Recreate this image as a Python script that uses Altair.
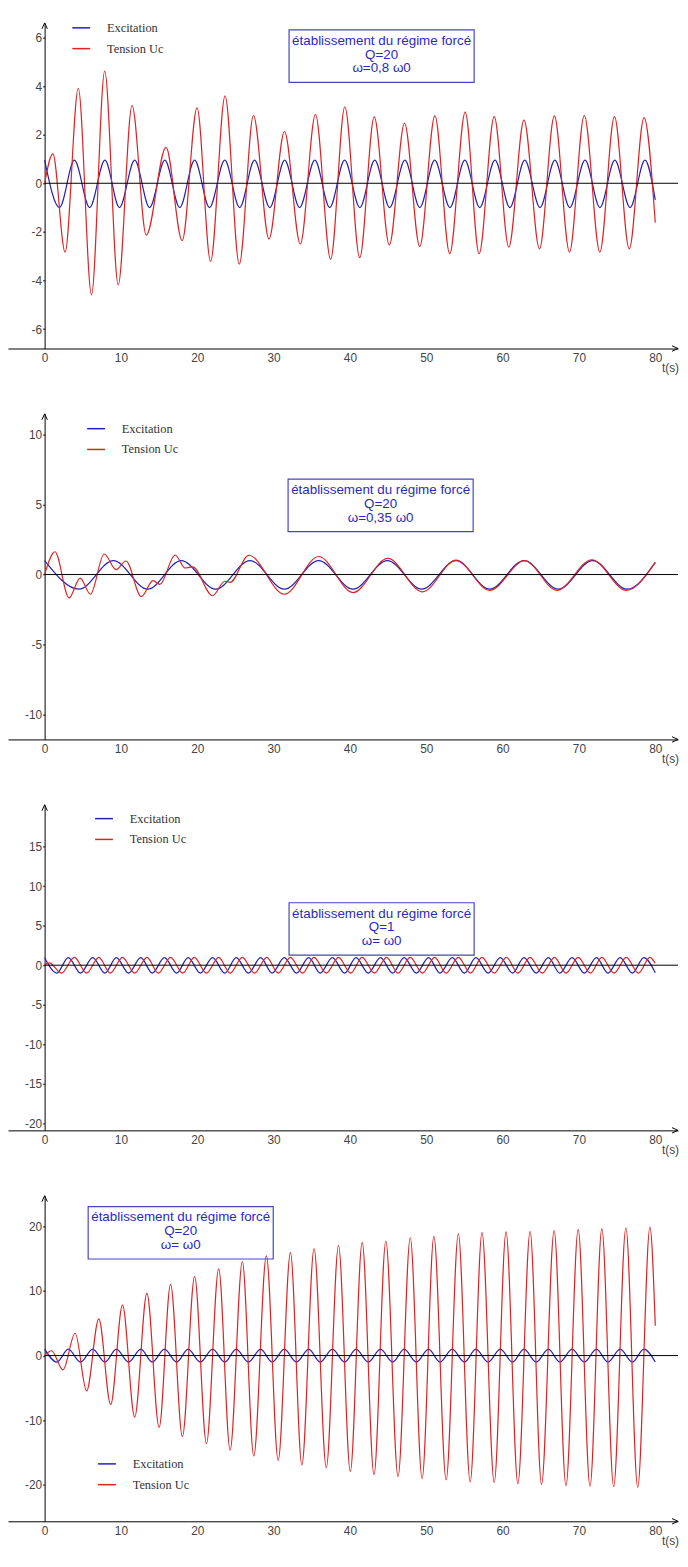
import altair as alt
import pandas as pd

SERIES = ["Excitation", "Tension Uc"]
COLORS = ["#2222b0", "#dd2323"]
X_TICKS = [0, 10, 20, 30, 40, 50, 60, 70, 80]
X_DOMAIN = [-4.8, 82.98]
W = 677
H = 329
AXIS_FONT = "Liberation Sans Narrow, Liberation Sans, Arial"

# ---------------- Panel 1 : Q=20, w=0.8 w0 ----------------
p1_exc_t = [0, 1.95, 3.9, 5.9, 7.9, 9.8, 11.8, 13.75, 15.75, 17.7,
            19.65, 21.6, 23.6, 25.55, 27.5, 29.5, 31.45, 33.4, 35.4, 37.35,
            39.3, 41.3, 43.25, 45.2, 47.2, 49.15, 51.1, 53.1, 55.05, 57.0,
            59.0, 60.95, 62.9, 64.9, 66.85, 68.8, 70.8, 72.75, 74.7, 76.7,
            78.65, 80]
p1_exc_v = [0.95, -1.0, 0.95, -1.0, 0.95, -1.0, 0.95, -1.0, 0.95, -1.0,
            0.95, -1.0, 0.95, -1.0, 0.95, -1.0, 0.95, -1.0, 0.95, -1.0,
            0.95, -1.0, 0.95, -1.0, 0.95, -1.0, 0.95, -1.0, 0.95, -1.0,
            0.95, -1.0, 0.95, -1.0, 0.95, -1.0, 0.95, -1.0, 0.95, -1.0,
            0.95, -0.68]
p1_uc_t = [0, 1.08, 2.68, 4.41, 6.14, 7.87, 9.64, 11.45, 13.31, 15.9,
           18.02, 19.97, 21.74, 23.64, 25.5, 27.36, 29.39, 31.42, 33.5, 35.48,
           37.47, 39.33, 41.28, 43.18, 45.16, 47.15, 49.14, 51.13, 53.07, 55.1,
           56.92, 58.9, 60.81, 62.8, 64.83, 66.78, 68.76, 70.7, 72.74, 74.65,
           76.59, 78.53, 80]
p1_uc_v = [0, 1.21, -2.83, 3.91, -4.59, 4.62, -4.18, 3.2, -2.13, 1.48,
           -2.36, 3.1, -3.22, 3.6, -3.33, 2.79, -2.29, 2.13, -2.5, 2.83,
           -3.13, 3.15, -3.06, 2.73, -2.54, 2.47, -2.6, 2.77, -2.9, 2.93,
           -2.9, 2.74, -2.63, 2.6, -2.7, 2.77, -2.83, 2.79, -2.83, 2.74,
           -2.7, 2.7, -1.62]
p1_ydomain = [-6.8, 6.6]
p1_yticks = [-6, -4, -2, 0, 2, 4, 6]
p1_box = ["établissement du régime forcé", "Q=20", "ω=0,8 ω0"]

# ---------------- Panel 2 : Q=20, w=0.35 w0 ----------------
p2_exc_t = [0, 4.5, 9.0, 13.5, 17.9, 22.4, 26.9, 31.4, 35.9, 40.4,
            44.9, 49.4, 53.9, 58.3, 62.8, 67.3, 71.8, 76.3, 80]
p2_exc_v = [1.0, -1.05, 1.0, -1.05, 1.0, -1.05, 1.0, -1.05, 1.0, -1.05,
            1.0, -1.05, 1.0, -1.05, 1.0, -1.05, 1.0, -1.05, 0.87]
p2_uc_t = [0, 1.35, 3.2, 4.65, 6.0, 7.8, 9.35, 10.65, 12.67, 14.2,
           15.1, 17.1, 18.4, 19.4, 22.0, 23.6, 24.3, 26.75, 31.4, 35.9,
           40.4, 44.95, 49.5, 53.9, 58.3, 62.9, 67.1, 71.7, 76.2, 80]
p2_uc_v = [0, 1.63, -1.67, -0.25, -1.41, 1.47, 0.35, 0.97, -1.58, -0.43,
           -0.7, 1.4, 0.47, 0.55, -1.52, -0.48, -0.56, 1.38, -1.41, 1.29,
           -1.29, 1.15, -1.24, 1.03, -1.13, 0.99, -1.13, 1.06, -1.13, 0.87]
p2_ydomain = [-11.8, 11.5]
p2_yticks = [-10, -5, 0, 5, 10]
p2_box = ["établissement du régime forcé", "Q=20", "ω=0,35 ω0"]

# ---------------- Panel 3 : Q=1, w=w0 ----------------
p3_exc_t = [0, 1.6, 3.1, 4.7, 6.3, 7.9, 9.4, 11.0, 12.6, 14.1,
            15.7, 17.3, 18.8, 20.4, 22.0, 23.6, 25.1, 26.7, 28.3, 29.8,
            31.4, 33.0, 34.6, 36.1, 37.7, 39.3, 40.8, 42.4, 44.0, 45.6,
            47.1, 48.7, 50.3, 51.8, 53.4, 55.0, 56.5, 58.1, 59.7, 61.3,
            62.8, 64.4, 66.0, 67.5, 69.1, 70.7, 72.3, 73.8, 75.4, 77.0,
            78.5, 80]
p3_exc_v = [0.95, -1.0, 0.95, -1.0, 0.95, -1.0, 0.95, -1.0, 0.95, -1.0,
            0.95, -1.0, 0.95, -1.0, 0.95, -1.0, 0.95, -1.0, 0.95, -1.0,
            0.95, -1.0, 0.95, -1.0, 0.95, -1.0, 0.95, -1.0, 0.95, -1.0,
            0.95, -1.0, 0.95, -1.0, 0.95, -1.0, 0.95, -1.0, 0.95, -1.0,
            0.95, -1.0, 0.95, -1.0, 0.95, -1.0, 0.95, -1.0, 0.95, -1.0,
            0.95, -0.97]
p3_uc_t = [0, 0.6, 2.2, 3.9, 5.5, 7.1, 8.6, 10.2, 11.8, 13.4,
           14.9, 16.5, 18.1, 19.6, 21.2, 22.8, 24.3, 25.9, 27.5, 29.1,
           30.6, 32.2, 33.8, 35.3, 36.9, 38.5, 40.1, 41.6, 43.2, 44.8,
           46.3, 47.9, 49.5, 51.1, 52.6, 54.2, 55.8, 57.3, 58.9, 60.5,
           62.0, 63.6, 65.2, 66.8, 68.3, 69.9, 71.5, 73.0, 74.6, 76.2,
           77.8, 79.3, 80]
p3_uc_v = [0, 0.3, -1.0, 1.0, -1.0, 1.0, -1.0, 1.0, -1.0, 1.0,
           -1.0, 1.0, -1.0, 1.0, -1.0, 1.0, -1.0, 1.0, -1.0, 1.0,
           -1.0, 1.0, -1.0, 1.0, -1.0, 1.0, -1.0, 1.0, -1.0, 1.0,
           -1.0, 1.0, -1.0, 1.0, -1.0, 1.0, -1.0, 1.0, -1.0, 1.0,
           -1.0, 1.0, -1.0, 1.0, -1.0, 1.0, -1.0, 1.0, -1.0, 1.0,
           -1.0, 1.0, 0.25]
p3_ydomain = [-20.9, 20.3]
p3_yticks = [-20, -15, -10, -5, 0, 5, 10, 15]
p3_box = ["établissement du régime forcé", "Q=1", "ω= ω0"]

# ---------------- Panel 4 : Q=20, w=w0 ----------------
p4_exc_t = [0, 1.6, 3.1, 4.7, 6.3, 7.9, 9.4, 11.0, 12.6, 14.1,
            15.7, 17.3, 18.8, 20.4, 22.0, 23.6, 25.1, 26.7, 28.3, 29.8,
            31.4, 33.0, 34.6, 36.1, 37.7, 39.3, 40.8, 42.4, 44.0, 45.6,
            47.1, 48.7, 50.3, 51.8, 53.4, 55.0, 56.5, 58.1, 59.7, 61.3,
            62.8, 64.4, 66.0, 67.5, 69.1, 70.7, 72.3, 73.8, 75.4, 77.0,
            78.5, 80]
p4_exc_v = [1.0, -1.0, 1.0, -1.0, 1.0, -1.0, 1.0, -1.0, 1.0, -1.0,
            1.0, -1.0, 1.0, -1.0, 1.0, -1.0, 1.0, -1.0, 1.0, -1.0,
            1.0, -1.0, 1.0, -1.0, 1.0, -1.0, 1.0, -1.0, 1.0, -1.0,
            1.0, -1.0, 1.0, -1.0, 1.0, -1.0, 1.0, -1.0, 1.0, -1.0,
            1.0, -1.0, 1.0, -1.0, 1.0, -1.0, 1.0, -1.0, 1.0, -1.0,
            1.0, -1.0]
p4_uc_t = [0, 0.9, 2.4, 4.0, 5.5, 7.1, 8.65, 10.2, 11.8, 13.4,
           15.0, 16.5, 18.05, 19.65, 21.2, 22.8, 24.3, 25.9, 27.4, 29.05,
           30.6, 32.2, 33.7, 35.3, 36.9, 38.5, 40.05, 41.6, 43.15, 44.7,
           46.3, 47.9, 49.45, 51.0, 52.6, 54.2, 55.75, 57.3, 58.9, 60.45,
           62.0, 63.6, 65.1, 66.75, 68.3, 69.9, 71.45, 73.0, 74.55, 76.15,
           77.7, 79.3, 80]
p4_uc_v = [0, 0.75, -2.2, 3.45, -5.45, 5.66, -7.58, 7.78, -9.5, 9.6,
           -11.1, 11.0, -12.5, 12.2, -13.6, 13.4, -14.6, 14.5, -15.5, 15.4,
           -16.2, 15.9, -16.9, 16.5, -17.3, 17.0, -17.9, 17.5, -18.4, 17.7,
           -18.7, 18.2, -19.0, 18.4, -19.2, 18.8, -19.5, 19.0, -19.6, 19.1,
           -19.8, 19.2, -19.9, 19.3, -20.1, 19.5, -20.2, 19.6, -20.25, 19.75,
           -20.35, 19.85, 4.6]
p4_ydomain = [-25.6, 24.7]
p4_yticks = [-20, -10, 0, 10, 20]
p4_box = ["établissement du régime forcé", "Q=20", "ω= ω0"]


def make_panel(exc_t, exc_v, uc_t, uc_v, ydomain, yticks, box_lines,
               leg_x, leg_y, box_x, box_y):
    df = pd.concat([
        pd.DataFrame({"t": exc_t, "v": exc_v, "s": SERIES[0]}),
        pd.DataFrame({"t": uc_t, "v": uc_v, "s": SERIES[1]}),
    ], ignore_index=True)
    origin = pd.DataFrame({"t": [0], "v": [0]})
    one = pd.DataFrame({"k": [0]})

    x_enc = alt.X("t:Q",
                  scale=alt.Scale(domain=X_DOMAIN, nice=False, zero=False),
                  axis=alt.Axis(values=X_TICKS, title=None, grid=False, ticks=False,
                                domainColor="#000000", domainWidth=1,
                                labelFont=AXIS_FONT, labelFontSize=12,
                                labelColor="#444444", labelPadding=4,
                                labelFlush=False))
    y_enc = alt.Y("v:Q",
                  scale=alt.Scale(domain=ydomain, nice=False, zero=False),
                  axis=alt.Axis(values=yticks, title=None, grid=False, offset=-37,
                                domainColor="#000000", domainWidth=1,
                                tickSize=2, tickColor="#555555", tickWidth=1.5,
                                labelFont=AXIS_FONT, labelFontSize=12,
                                labelColor="#444444", labelPadding=1,
                                labelExpr="'' + datum.value",
                                labelFlush=False, labelOverlap=False))

    lines = alt.Chart(df).mark_line(interpolate="monotone", strokeWidth=1.2).encode(
        x=x_enc,
        y=y_enc,
        color=alt.Color("s:N",
                        scale=alt.Scale(domain=SERIES, range=COLORS),
                        legend=alt.Legend(orient="none", legendX=leg_x, legendY=leg_y,
                                          title=None, symbolType="stroke",
                                          symbolSize=324, symbolStrokeWidth=1.5,
                                          labelFont="Liberation Serif", labelFontSize=12.5,
                                          labelColor="#333333", labelOffset=16,
                                          rowPadding=4, padding=0)),
    )

    zero = alt.Chart(origin).mark_rule(color="#000000", strokeWidth=1).encode(
        x="t:Q", x2=alt.value(W), y="v:Q")

    y_arrow = alt.Chart(origin).mark_point(
        shape="M-1,2.2L0,0L1,2.2", filled=False, color="#000000",
        size=30, strokeWidth=1, opacity=1).encode(x="t:Q", y=alt.value(0))

    x_arrow = alt.Chart(one).mark_point(
        shape="M-2.2,-1L0,0L-2.2,1", filled=False, color="#000000",
        size=30, strokeWidth=1, opacity=1).encode(x=alt.value(W), y=alt.value(H))

    box = alt.Chart(one).mark_rect(
        fillOpacity=0, stroke="#4646c4", strokeWidth=1.2).encode(
        x=alt.value(box_x), x2=alt.value(box_x + 187),
        y=alt.value(box_y), y2=alt.value(box_y + 53))

    box_text = alt.Chart(one).mark_text(
        text=box_lines, font="Liberation Sans, Arial", fontSize=13.5,
        color="#2a2abf", align="center", baseline="top", lineHeight=14).encode(
        x=alt.value(box_x + 93.5), y=alt.value(box_y + 4))

    t_label = alt.Chart(one).mark_text(
        text="t(s)", font=AXIS_FONT, fontSize=12, color="#444444",
        align="right", baseline="middle").encode(
        x=alt.value(W + 1), y=alt.value(H + 20))

    return alt.layer(lines, zero, y_arrow, x_arrow, box, box_text, t_label).properties(
        width=W, height=H)


panel1 = make_panel(p1_exc_t, p1_exc_v, p1_uc_t, p1_uc_v, p1_ydomain, p1_yticks,
                    p1_box, 64, -5, 284, 7)
panel2 = make_panel(p2_exc_t, p2_exc_v, p2_uc_t, p2_uc_v, p2_ydomain, p2_yticks,
                    p2_box, 79, 5, 283, 66)
panel3 = make_panel(p3_exc_t, p3_exc_v, p3_uc_t, p3_uc_v, p3_ydomain, p3_yticks,
                    p3_box, 87, 4, 284, 99)
panel4 = make_panel(p4_exc_t, p4_exc_v, p4_uc_t, p4_uc_v, p4_ydomain, p4_yticks,
                    p4_box, 90, 261, 81, 11)

chart = alt.vconcat(panel1, panel2, panel3, panel4, spacing=66, bounds="flush").resolve_scale(
    x="independent", y="independent", color="independent"
).resolve_legend(color="independent").properties(
    padding={"left": 0, "right": 0, "top": 2, "bottom": 0},
    background="white",
).configure_view(stroke=None)

chart.save("out.html", embed_options={"renderer": "svg", "actions": False})
